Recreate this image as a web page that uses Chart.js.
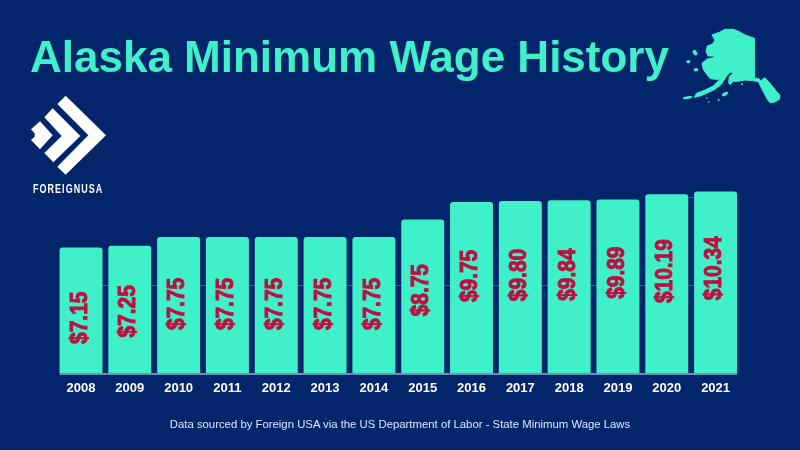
<!DOCTYPE html>
<html>
<head>
<meta charset="utf-8">
<title>Alaska Minimum Wage History</title>
<script src="https://cdn.jsdelivr.net/npm/chart.js@4/dist/chart.umd.min.js"></script>
<style>
  html, body { margin: 0; padding: 0; background: #03256c; }
  #wrap { position: relative; width: 800px; height: 450px; overflow: hidden; background: #03256c; }
  canvas { position: absolute; left: 0; top: 0; }
  svg { position: absolute; }
  #brand { position: absolute; left: 33px; top: 182px; color: #fff; font: bold 12.5px "Liberation Sans", sans-serif; letter-spacing: 1.5px; transform: scaleX(0.715); transform-origin: left top; white-space: nowrap; }
  #source { position: absolute; left: 0; width: 800px; top: 418px; text-align: center; color: #dbe8f8; font: 11.35px "Liberation Sans", sans-serif; }
</style>
</head>
<body>
<div id="wrap">
  <canvas id="wage" width="800" height="450"></canvas>
  <!-- logo, traced in zoomed coords -->
  <svg style="left:0;top:80px" width="260" height="130" viewBox="0 0 780 390" fill="#fff">
    <polygon points="197,47 318,166 197,284 172,260 265,166 172,72"/>
    <polygon points="158,85 241,168 160,247 133,219 185,168 133,112"/>
    <polygon points="120,124 158,166 120,208 93,180 104,170 104,160 93,148"/>
  </svg>
  <div id="brand">FOREIGNUSA</div>
  <!-- state outline -->
  <svg style="left:670px;top:10px" width="130" height="110" viewBox="0 0 390 330" fill="#40f0c8">
    <path stroke="#40f0c8" stroke-width="3" stroke-linejoin="round" d="M126,75 L150,66 L165,58 L190,58 L210,66 L225,75 L253,85 L254,205 L265,205 L272,212 L285,203 L300,220 L320,245 L330,255 L328,268 L315,276 L300,278 L292,268 L280,245 L265,215 L250,212 L225,210 L205,214 L190,214 L180,224 L176,218 L178,200 L190,190 L182,186 L170,197 L155,222 L135,238 L110,250 L90,258 L73,262 L80,250 L105,240 L130,228 L150,208 L135,208 L120,205 L108,190 L100,178 L96,160 L110,148 L130,143 L135,138 L115,138 L108,125 L112,108 L128,102 L135,90 Z"/>
    <ellipse cx="75" cy="128" rx="6" ry="9" transform="rotate(-35 75 128)"/>
    <ellipse cx="55" cy="155" rx="6" ry="5"/>
    <ellipse cx="78" cy="179" rx="7" ry="5"/>
    <ellipse cx="53" cy="263" rx="15" ry="4" transform="rotate(-10 53 263)"/>
    <ellipse cx="165" cy="252" rx="10" ry="5" transform="rotate(-30 165 252)"/>
    <circle cx="146" cy="270" r="3"/><circle cx="116" cy="276" r="2.5"/><circle cx="110" cy="264" r="2.5"/><circle cx="216" cy="223" r="3"/>
  </svg>
  <div id="source">Data sourced by Foreign USA via the US Department of Labor - State Minimum Wage Laws</div>
</div>
<script>
const years = ['2008','2009','2010','2011','2012','2013','2014','2015','2016','2017','2018','2019','2020','2021'];
const wages = [7.15,7.25,7.75,7.75,7.75,7.75,7.75,8.75,9.75,9.80,9.84,9.89,10.19,10.34];
const wageLabels = ['$7.15','$7.25','$7.75','$7.75','$7.75','$7.75','$7.75','$8.75','$9.75','$9.80','$9.84','$9.89','$10.19','$10.34'];
const gridValues = [5, 10];

// grid only shows behind the bars that reach it, so it's drawn here and not by the y axis
const barGrid = {
  id: 'barGrid',
  beforeDatasetsDraw(chart, args, opts) {
    const ctx = chart.ctx;
    const bars = chart.getDatasetMeta(0).data;
    const last = bars[bars.length - 1];
    const right = last.x + last.width / 2;
    ctx.save();
    gridValues.forEach((v) => {
      const first = bars[wages.findIndex((w) => w >= v)];
      const y = Math.round(chart.scales.y.getPixelForValue(v)) + 0.5;
      ctx.strokeStyle = opts.color;
      ctx.lineWidth = 1;
      ctx.beginPath();
      ctx.moveTo(first.x - first.width / 2, y);
      ctx.lineTo(right, y);
      ctx.stroke();
    });
    const left = bars[0].x - bars[0].width / 2;
    ctx.fillStyle = opts.baseColor;
    ctx.fillRect(left, chart.scales.y.getPixelForValue(0), right - left, 2);
    ctx.restore();
  }
};

// rotated labels inside the bars, they aren't quite centred in the original
const barLabels = {
  id: 'barLabels',
  afterDatasetsDraw(chart, args, opts) {
    const ctx = chart.ctx;
    chart.getDatasetMeta(0).data.forEach((bar, i) => {
      ctx.save();
      ctx.translate(bar.x - 1, (bar.y + bar.base) / 2 + opts.shift[i]);
      ctx.rotate(-Math.PI / 2);
      ctx.scale(opts.squeeze, 1);
      ctx.fillStyle = opts.color;
      ctx.strokeStyle = opts.color;
      ctx.lineWidth = 1;
      ctx.font = opts.font;
      ctx.textAlign = 'center';
      ctx.textBaseline = 'middle';
      ctx.fillText(wageLabels[i], 0, 0);
      ctx.strokeText(wageLabels[i], 0, 0);
      ctx.restore();
    });
  }
};

new Chart(document.getElementById('wage'), {
  type: 'bar',
  data: {
    labels: years,
    datasets: [{
      data: wages,
      backgroundColor: '#40f0c8',
      borderRadius: 3,
      categoryPercentage: 1,
      barPercentage: 0.88
    }]
  },
  plugins: [barGrid, barLabels],
  options: {
    responsive: false,
    animation: false,
    layout: { padding: { left: 30, right: 60, top: 0, bottom: 47 } },
    scales: {
      x: {
        afterFit(scale) { scale.height = 30; },
        grid: { display: false },
        border: { display: false },
        ticks: { color: '#fff', font: { family: 'Liberation Sans', size: 13, weight: 'bold' }, padding: 0, maxRotation: 0 }
      },
      y: {
        min: 0,
        max: 12,
        afterFit(scale) { scale.width = 26.6; },
        border: { display: false },
        grid: { display: false },
        ticks: { display: false }
      }
    },
    plugins: {
      legend: { display: false },
      tooltip: { enabled: false },
      title: {
        display: true,
        text: 'Alaska Minimum Wage History',
        align: 'start',
        color: '#40f0c8',
        font: { family: 'Liberation Sans', size: 44, weight: 'bold' },
        padding: { top: 33, bottom: 76.6 }
      },
      barGrid: {
        color: 'rgba(120,160,215,0.45)',
        baseColor: '#6f8fc0'
      },
      barLabels: {
        color: '#bd1040',
        font: 'bold 24px "Liberation Sans"',
        squeeze: 0.87,
        shift: [7.5, 2, -1, -1, -1, -1, -1, -6, -11.5, -12, -12, -13.5, -12.5, -14]
      }
    }
  }
});
</script>
</body>
</html>
